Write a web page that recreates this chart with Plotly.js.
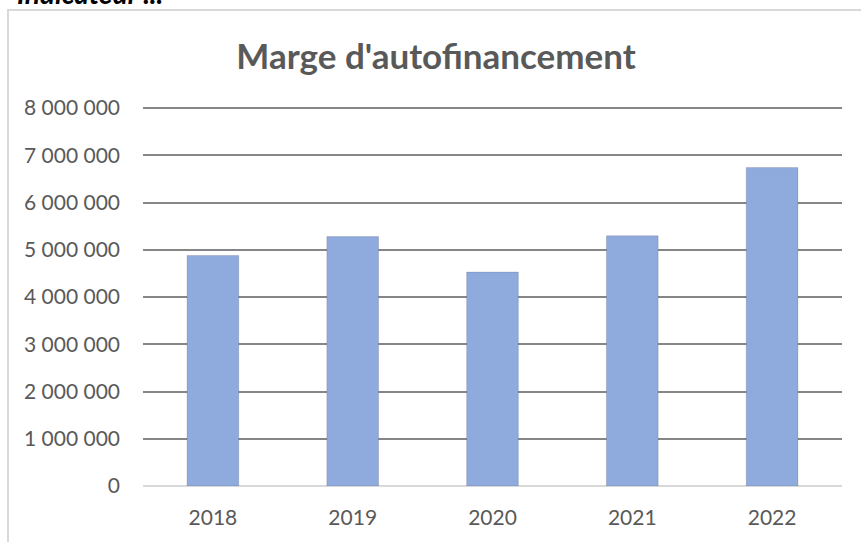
<!DOCTYPE html>
<html>
<head>
<meta charset="utf-8">
<script src="https://cdn.plot.ly/plotly-3.0.1.min.js"></script>
<style>
  html, body { margin: 0; padding: 0; background: #fff; overflow: hidden; }
  #frame {
    position: absolute; left: 7px; top: 9px; width: 900px; height: 600px;
    border: 2px solid #d9d9d9; box-sizing: border-box;
  }
  #chart { position: absolute; left: 0; top: 0; width: 861px; height: 542px; }
</style>
</head>
<body>
<div id="frame"></div>
<div id="chart"></div>
<script>
// Marge d'autofinancement par année
const years = ["2018", "2019", "2020", "2021", "2022"];
const marge = [4880000, 5280000, 4530000, 5300000, 6740000];
const tickVals = [0, 1000000, 2000000, 3000000, 4000000, 5000000, 6000000, 7000000, 8000000];
const tickText = ["0", "1 000 000", "2 000 000", "3 000 000", "4 000 000", "5 000 000", "6 000 000", "7 000 000", "8 000 000"];

const font = "Lato, 'Open Sans', sans-serif";
const grey = "#595959";

const traces = [
  {
    x: years,
    y: marge,
    type: "bar",
    marker: { color: "#8faadc", line: { color: "rgba(0,0,0,0.13)", width: 1 } },
    hovertemplate: "%{x}: %{y:,.0f}<extra></extra>",
  },
];

const layout = {
  width: 861,
  height: 542,
  paper_bgcolor: "rgba(0,0,0,0)",
  plot_bgcolor: "rgba(0,0,0,0)",
  font: { family: font, color: grey, size: 21 },
  margin: { l: 143, r: 19, t: 101, b: 56 },
  showlegend: false,
  bargap: 0.63,
  title: {
    text: "<b>Marge d'autofinancement</b>",
    font: { family: font, size: 35, color: grey },
    x: 436 / 861,
    xref: "container",
    xanchor: "center",
    y: 1 - 57 / 542,
    yref: "container",
    yanchor: "middle",
  },
  xaxis: {
    type: "category",
    showgrid: false,
    showline: false,
    ticks: "",
    ticklabelstandoff: 17,
    tickfont: { family: font, size: 21, color: grey },
  },
  yaxis: {
    range: [0, 8150000],
    tickvals: tickVals,
    ticktext: tickText,
    showline: false,
    ticks: "",
    ticklabelstandoff: 22,
    gridcolor: "#868686",
    gridwidth: 2,
    zeroline: true,
    zerolinecolor: "#d9d9d9",
    zerolinewidth: 2.5,
    tickfont: { family: font, size: 21, color: grey },
  },
  annotations: [
    {
      text: "<b><i>Indicateur ...</i></b>",
      xref: "paper",
      yref: "paper",
      x: (15 - 143) / 699,
      y: (486 - 12) / 385,
      xanchor: "left",
      yanchor: "bottom",
      showarrow: false,
      font: { family: font, size: 28, color: "#000" },
    },
  ],
};

Plotly.newPlot("chart", traces, layout, { displayModeBar: false, staticPlot: true });
</script>
</body>
</html>
